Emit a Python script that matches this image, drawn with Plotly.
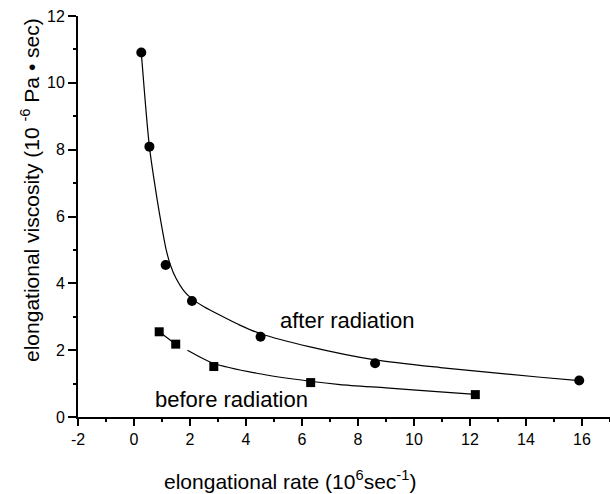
import plotly.graph_objects as go

# measured points
after_x = [0.26, 0.55, 1.13, 2.07, 4.52, 8.61, 15.9]
after_y = [10.91, 8.09, 4.55, 3.47, 2.40, 1.61, 1.09]
before_x = [0.90, 1.49, 2.85, 6.31, 12.19]
before_y = [2.55, 2.18, 1.51, 1.03, 0.67]

# fitted curves
after_fit_x = [0.26, 0.55, 0.83, 1.00, 1.15, 1.30, 1.50, 1.76, 2.05, 2.50, 3.18, 3.78, 4.50, 6.29, 8.61, 10.94, 14.52, 15.9]
after_fit_y = [10.91, 8.09, 6.49, 5.65, 5.00, 4.55, 4.15, 3.80, 3.55, 3.30, 3.00, 2.75, 2.50, 2.10, 1.71, 1.48, 1.19, 1.09]
before_fit_x = [0.90, 1.49, None, 1.91, 2.83, 4.38, 6.29, 7.36, 9.00, 10.94, 12.19]
before_fit_y = [2.55, 2.18, None, 2.00, 1.61, 1.31, 1.07, 0.97, 0.87, 0.75, 0.68]

x_ticks = [-2, 0, 2, 4, 6, 8, 10, 12, 14, 16]
y_ticks = [0, 2, 4, 6, 8, 10, 12]

FONT = "Liberation Sans, Arial, sans-serif"

fig = go.Figure()
fig.add_trace(go.Scatter(x=after_fit_x, y=after_fit_y, mode="lines",
                         line=dict(color="black", width=1.2, shape="spline", smoothing=0.7),
                         hoverinfo="skip"))
fig.add_trace(go.Scatter(x=before_fit_x, y=before_fit_y, mode="lines",
                         line=dict(color="black", width=1.2, shape="spline", smoothing=0.7),
                         connectgaps=False, hoverinfo="skip"))
fig.add_trace(go.Scatter(x=after_x, y=after_y, mode="markers",
                         marker=dict(symbol="circle", size=10, color="black")))
fig.add_trace(go.Scatter(x=before_x, y=before_y, mode="markers",
                         marker=dict(symbol="square", size=9, color="black")))

fig.add_annotation(x=7.61, y=2.89, xref="x", yref="y", text="after radiation",
                   showarrow=False, font=dict(size=22, color="black", family=FONT),
                   xanchor="center", yanchor="middle")
fig.add_annotation(x=3.49, y=0.53, xref="x", yref="y", text="before radiation",
                   showarrow=False, font=dict(size=22, color="black", family=FONT),
                   xanchor="center", yanchor="middle")

# axis titles
fig.add_annotation(x=(290.3 - 78) / 532, y=(417 - 480) / 401, xref="paper", yref="paper",
                   text="elongational rate (10<sup>6</sup>sec<sup>-1</sup>)",
                   showarrow=False, font=dict(size=21, color="black", family=FONT),
                   xanchor="center", yanchor="middle")
fig.add_annotation(x=(30 - 78) / 532, y=(417 - 190) / 401, xref="paper", yref="paper",
                   text="elongational viscosity (10 <sup>-6</sup> Pa \u2022 sec)", textangle=-90,
                   showarrow=False, font=dict(size=21, color="black", family=FONT),
                   xanchor="center", yanchor="middle")

fig.update_xaxes(range=[-2, 17], tickvals=x_ticks, ticktext=[str(v) for v in x_ticks],
                 showgrid=False, zeroline=False, showline=True, linecolor="black", linewidth=2,
                 ticks="outside", ticklen=7, tickwidth=1.5, tickcolor="black",
                 minor=dict(dtick=1, tick0=-1, ticks="outside", ticklen=3, tickwidth=1.5, tickcolor="black"),
                 tickfont=dict(size=16, color="black", family=FONT))
fig.update_yaxes(range=[0, 12], tickvals=y_ticks, ticktext=[str(v) for v in y_ticks],
                 showgrid=False, zeroline=False, showline=True, linecolor="black", linewidth=2,
                 ticks="outside", ticklen=8, tickwidth=1.5, tickcolor="black",
                 minor=dict(dtick=1, tick0=1, ticks="outside", ticklen=3, tickwidth=1.5, tickcolor="black"),
                 tickfont=dict(size=16, color="black", family=FONT))

fig.update_layout(width=610, height=494, margin=dict(l=78, r=0, t=16, b=77, autoexpand=False),
                  plot_bgcolor="white", paper_bgcolor="white", showlegend=False,
                  font=dict(family=FONT, color="black"))

fig.write_html("out.html")
